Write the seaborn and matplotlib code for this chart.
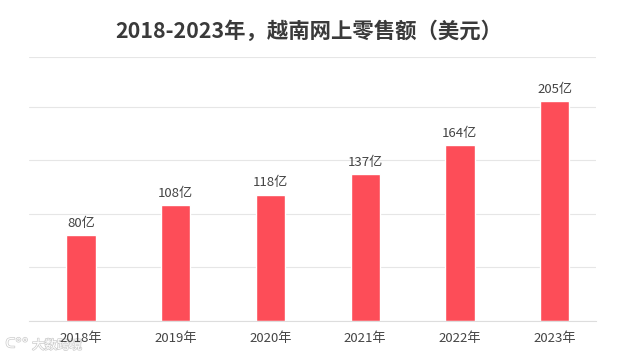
import matplotlib
matplotlib.use('Agg')
import matplotlib.pyplot as plt
import matplotlib.patheffects as pe
import seaborn as sns
import pandas as pd

years = ['2018年', '2019年', '2020年', '2021年', '2022年', '2023年']
values = [80, 108, 118, 137, 164, 205]
labels = ['80亿', '108亿', '118亿', '137亿', '164亿', '205亿']
title = '2018-2023年，越南网上零售额（美元）'

sns.set_theme(style='white')
plt.rcParams['font.family'] = ['Noto Sans CJK SC', 'DejaVu Sans']

df = pd.DataFrame({'year': years, 'value': values})
fig = plt.figure(figsize=(6.22, 3.57), dpi=100)
ax = fig.add_axes([29/622, 1-321/357, 567/622, (321-56.5)/357])
sns.barplot(data=df, x='year', y='value', color='#fd4d58', saturation=1, width=0.31, ax=ax)
ax.set_xlim(-0.55, 5.437)
ax.set_ylim(0, 247)
ax.set_yticks([0, 50, 100, 150, 200, 247])
ax.yaxis.grid(True, color='#e6e6e6', lw=0.8)
ax.set_axisbelow(True)
ax.set_xlabel('')
ax.set_ylabel('')
ax.tick_params(axis='y', left=False, labelleft=False)
ax.tick_params(axis='x', length=0, labelsize=9.5, labelcolor='#444444', pad=8)
for s in ['top', 'left', 'right']:
    ax.spines[s].set_visible(False)
ax.spines['bottom'].set_color('#dddddd')
ax.spines['bottom'].set_linewidth(0.8)
for i, v in enumerate(values):
    ax.text(i, v + 5, labels[i], ha='center', va='bottom', fontsize=9.5, color='#444444')
fig.text(308.5/622, 1-31.5/357, title, ha='center', va='center', fontsize=15.4, fontweight='bold', color='#3a3a3a')

# watermark, sits under the tick labels
fig.text(57/622, 1-345.5/357, '大数跨境', ha='center', va='center', fontsize=9, color='#ffffff', zorder=-1,
         path_effects=[pe.withStroke(linewidth=1.1, foreground='#cfcfcf')])
fig.text(17/622, 1-344/357, 'ᑕ°°', ha='center', va='center', fontsize=9.5, color='#ffffff', zorder=-1,
         family='DejaVu Sans', path_effects=[pe.withStroke(linewidth=1.1, foreground='#cfcfcf')])
fig.savefig('out.png', dpi=100)
